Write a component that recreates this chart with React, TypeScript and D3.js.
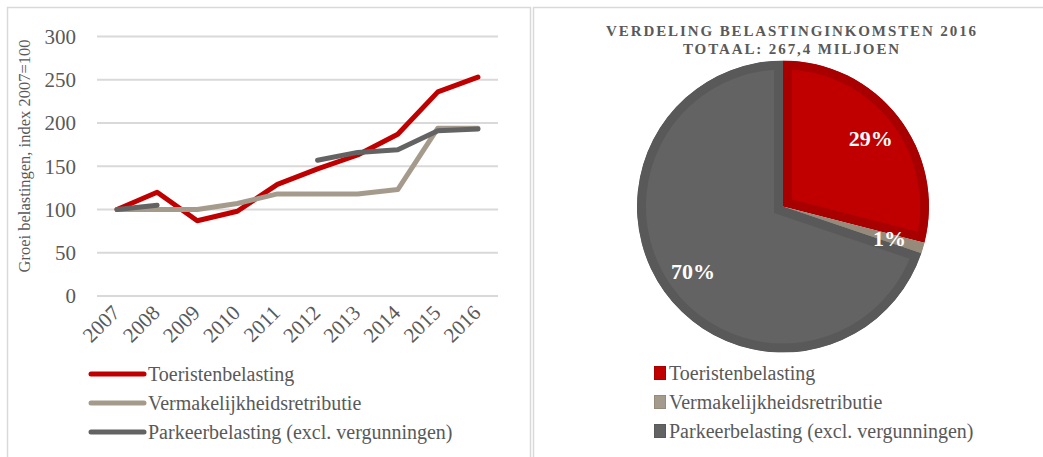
import { useMemo } from "react";
import * as d3 from "d3";

const WIDTH = 1043;
const HEIGHT = 457;
const FONT = "'Liberation Serif', 'DejaVu Serif', serif";
const TEXT_COLOR = "#595959";

// line chart data (index 2007 = 100)
const years = ["2007", "2008", "2009", "2010", "2011", "2012", "2013", "2014", "2015", "2016"];
const toeristen = [100, 120, 87, 98, 129, 147, 163, 187, 236, 253];
const vermaak = [100, 100, 100, 107, 118, 118, 118, 123, 194, 194];
const parkeer: (number | null)[] = [100, 105, null, null, null, 157, 166, 169, 191, 193];
const yTicks = [0, 50, 100, 150, 200, 250, 300];

const seriesNames = [
  "Toeristenbelasting",
  "Vermakelijkheidsretributie",
  "Parkeerbelasting (excl. vergunningen)",
];
const seriesColors = ["#c00000", "#a59b8c", "#636363"];
const borderColors = ["#a80000", "#968b7b", "#595959"];

// pie data 2016, millions (total 267,4)
const pieValues = [77.5, 3.2, 186.7];
const pieTitle = ["VERDELING BELASTINGINKOMSTEN 2016", "TOTAAL: 267,4 MILJOEN"];

const PLOT = { left: 97, right: 498, top: 36.5, bottom: 296 };

const LineChart = () => {
  const xScale = useMemo(
    () => d3.scaleBand().domain(years).range([PLOT.left, PLOT.right]),
    []
  );
  const yScale = useMemo(
    () => d3.scaleLinear().domain([0, 300]).range([PLOT.bottom, PLOT.top]),
    []
  );
  const cx = (y: string) => (xScale(y) ?? 0) + xScale.bandwidth() / 2;

  const lineGen = d3
    .line<number | null>()
    .defined((d) => d !== null)
    .x((_, i) => cx(years[i]))
    .y((d) => yScale(d as number));

  const allSeries = [toeristen, vermaak, parkeer];

  return (
    <g>
      {/* panel frame */}
      <rect x={7.5} y={7.5} width={523} height={470} fill="none" stroke="#d9d9d9" strokeWidth={1.5} />

      {yTicks.map((t) => (
        <g key={t}>
          <line
            x1={PLOT.left}
            x2={PLOT.right}
            y1={yScale(t)}
            y2={yScale(t)}
            stroke="#d9d9d9"
            strokeWidth={2}
          />
          <text
            x={76}
            y={yScale(t)}
            dy="0.35em"
            textAnchor="end"
            fontSize={21}
            fill={TEXT_COLOR}
          >
            {t}
          </text>
        </g>
      ))}

      <text
        transform={`translate(30, 156) rotate(-90)`}
        textAnchor="middle"
        fontSize={16.5}
        fill={TEXT_COLOR}
      >
        Groei belastingen, index 2007=100
      </text>

      {years.map((y) => (
        <text
          key={y}
          transform={`translate(${cx(y) + 4}, 314) rotate(-45)`}
          textAnchor="end"
          fontSize={21}
          fill={TEXT_COLOR}
        >
          {y}
        </text>
      ))}

      {allSeries.map((s, i) => (
        <path
          key={i}
          d={lineGen(s) ?? ""}
          fill="none"
          stroke={seriesColors[i]}
          strokeWidth={5}
          strokeLinecap="round"
          strokeLinejoin="round"
        />
      ))}

      {seriesNames.map((name, i) => (
        <g key={name} transform={`translate(0, ${374 + i * 29})`}>
          <line x1={91} x2={144} y1={0} y2={0} stroke={seriesColors[i]} strokeWidth={5} strokeLinecap="round" />
          <text x={148} y={0} dy="0.35em" fontSize={20} fill={TEXT_COLOR}>
            {name}
          </text>
        </g>
      ))}
    </g>
  );
};

const PieChart = () => {
  const cx = 783;
  const cy = 206.5;
  const r = 146;

  const arcs = useMemo(() => d3.pie<number>().sort(null)(pieValues), []);
  const arcGen = d3.arc<d3.PieArcDatum<number>>().innerRadius(0).outerRadius(r);
  const labelArc = d3.arc<d3.PieArcDatum<number>>().innerRadius(r * 0.76).outerRadius(r * 0.76);
  const total = d3.sum(pieValues);

  return (
    <g>
      <rect x={533.5} y={7.5} width={520} height={470} fill="none" stroke="#d9d9d9" strokeWidth={1.5} />

      {pieTitle.map((t, i) => (
        <text
          key={t}
          x={792}
          y={35.5 + i * 18}
          textAnchor="middle"
          fontSize={15}
          fontWeight="bold"
          letterSpacing={1.9}
          fill={TEXT_COLOR}
        >
          {t}
        </text>
      ))}

      <g transform={`translate(${cx},${cy})`}>
        <defs>
          {arcs.map((a, i) => (
            <clipPath key={i} id={`slice-clip-${i}`}>
              <path d={arcGen(a) ?? ""} />
            </clipPath>
          ))}
        </defs>

        {arcs.map((a, i) => (
          <path
            key={i}
            d={arcGen(a) ?? ""}
            fill={seriesColors[i]}
            stroke={borderColors[i]}
            strokeWidth={18}
            strokeLinejoin="miter"
            clipPath={`url(#slice-clip-${i})`}
          />
        ))}

        {arcs.map((a, i) => {
          const [lx, ly] = labelArc.centroid(a);
          return (
            <text
              key={i}
              x={lx}
              y={ly}
              dy="0.35em"
              textAnchor="middle"
              fontSize={22}
              fontWeight="bold"
              fill="#ffffff"
            >
              {Math.round((a.value / total) * 100)}%
            </text>
          );
        })}
      </g>

      {seriesNames.map((name, i) => (
        <g key={name} transform={`translate(0, ${373 + i * 29})`}>
          <rect x={654.5} y={-6.5} width={11} height={13} fill={seriesColors[i]} stroke={borderColors[i]} strokeWidth={1} />
          <text x={669} y={0} dy="0.35em" fontSize={20} fill={TEXT_COLOR}>
            {name}
          </text>
        </g>
      ))}
    </g>
  );
};

export default function App() {
  return (
    <svg
      width={WIDTH}
      height={HEIGHT}
      fontFamily={FONT}
      style={{ position: "absolute", left: 0, top: 0, background: "#ffffff" }}
    >
      <LineChart />
      <PieChart />
    </svg>
  );
}
